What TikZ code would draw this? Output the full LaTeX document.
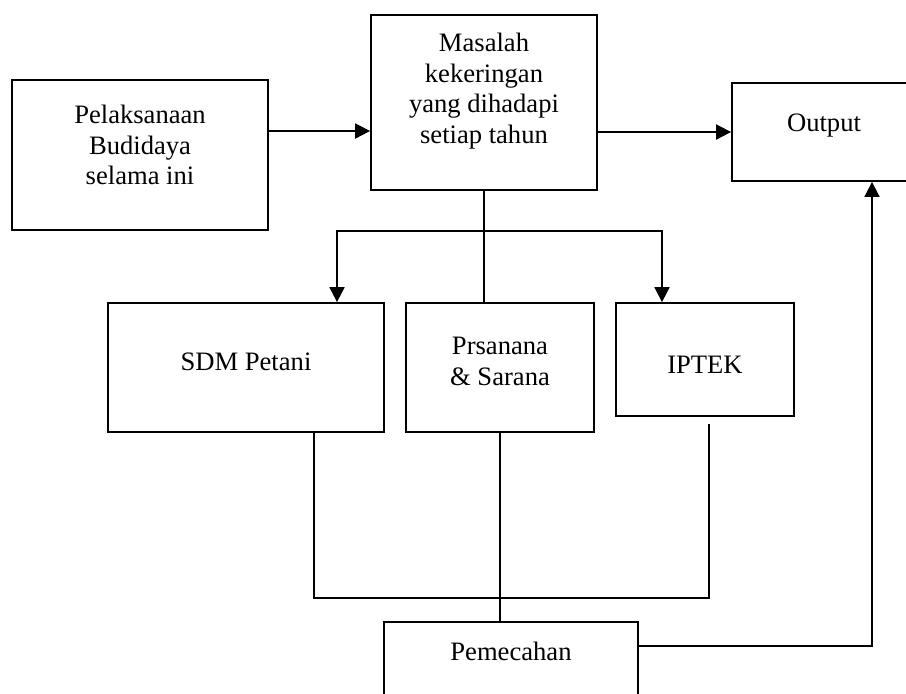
\documentclass[tikz,border=0pt]{standalone}
\usepackage{fontspec}
\setmainfont{Liberation Serif}
\usetikzlibrary{arrows.meta}

% empty struts to push the text off centre
\newcommand{\padbelow}[1]{\rule[-#1]{0pt}{#1}}
\newcommand{\padabove}[1]{\rule{0pt}{#1}}

\begin{document}
\begin{tikzpicture}[x=0.5pt,y=-0.5pt,
    every node/.style={font=\fontsize{13.3}{15.25}\selectfont},
    block/.style={rectangle,draw,line width=0.9pt,inner sep=0pt,align=center},
    arrow/.style={-{Triangle[length=7.5pt,width=7.5pt]},line width=0.9pt},
    link/.style={line width=0.9pt}
]
\useasboundingbox (0,0) rectangle (906,693);

% Top row
\node[block,minimum width=128pt,minimum height=75pt] (pel) at (140,155) {Pelaksanaan\\Budidaya\\selama ini\padbelow{10pt}};
\node[block,minimum width=113pt,minimum height=87.5pt] (mas) at (484,102.5) {Masalah\\kekeringan\\yang dihadapi\\setiap tahun\padbelow{14pt}};
\node[block,minimum width=92pt,minimum height=49pt] (out) at (824,132) {Output\padbelow{9pt}};

% Middle row
\node[block,minimum width=138pt,minimum height=64.5pt] (sdm) at (246,367.5) {SDM Petani\padbelow{5.5pt}};
\node[block,minimum width=94pt,minimum height=64.5pt] (pra) at (500,367.5) {Prsanana\\\& Sarana\padbelow{6pt}};
\node[block,minimum width=89pt,minimum height=56.5pt] (ipt) at (705,359.5) {\padabove{13.5pt}IPTEK};

% Bottom
\node[block,minimum width=127pt,minimum height=41.5pt] (pem) at (511,663.5) {Pemecahan\padbelow{12.5pt}};

% Connections
\coordinate (split) at ([yshift=-20pt]mas.south);
\coordinate (merge) at ([yshift=-82.5pt]pra.south);
\draw[arrow] ([yshift=12pt]pel.east) -- ([yshift=12pt]pel.east -| mas.west);
\draw[arrow] (mas.east |- out.west) -- (out.west);
\draw[link] (mas.south) -- (mas.south |- pra.north);
\draw[arrow] (split) -| ([xshift=45.5pt]sdm.north);
\draw[arrow] (split) -| ([xshift=-21.5pt]ipt.north);
\draw[link] ([xshift=34pt]sdm.south) |- (merge) -| ([xshift=2pt,yshift=-3.5pt]ipt.south);
\draw[link] (pra.south) -- (pem.north -| pra.south);
\draw[arrow] ([yshift=-12.5pt]pem.north east) -| ([xshift=24pt]out.south);

\end{tikzpicture}
\end{document}
